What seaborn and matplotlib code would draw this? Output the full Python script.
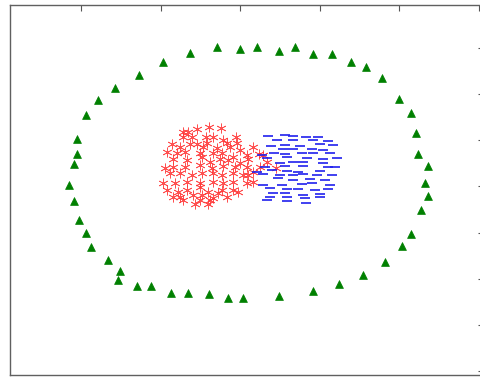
import matplotlib
matplotlib.use("Agg")
import matplotlib.pyplot as plt
import seaborn as sns
import pandas as pd

# ---- data (arbitrary units) ----
red_x = [-17.2, -12.8, -9.2, -5.8, -17.2, -14.5, -10.2, -8.0, -5.2, -1.2, -1.0, -20.5, -18.0, -15.0,
         -13.0, -10.0, -6.8, -3.0, 0.0, 3.8, -22.0, -19.0, -16.5, -12.0, -8.0, -5.5, -2.0, 2.0, 5.8,
         -20.0, -16.0, -11.5, -9.0, -6.0, -3.5, 0.0, 2.5, 8.0, -22.5, -20.0, -16.5, -12.0, -8.5, -5.0,
         -1.5, 2.0, 6.0, 10.8, -21.0, -18.0, -14.5, -11.5, -8.0, -5.5, -2.0, 1.0, 4.0, -23.0, -19.5,
         -16.0, -12.0, -8.0, -5.0, -2.0, 2.0, 4.0, -22.0, -18.5, -16.0, -12.0, -9.5, -5.5, -2.0, -0.5,
         -18.0, -14.0, -11.5, -8.0, -4.0, -17.0, -12.0, -6.5, -13.5, -9.5, -9.0, 2.5, 7.0, -15.5,
         -11.0, -4.0, -20.0]
red_y = [16.3, 17.0, 17.6, 17.3, 14.8, 14.8, 14.8, 14.6, 13.8, 14.8, 12.8, 12.6, 11.8, 12.6,
         12.6, 12.8, 11.3, 11.8, 10.8, 11.8, 10.3, 9.8, 10.3, 10.0, 9.8, 9.8, 8.8, 9.3, 9.6,
         8.0, 7.8, 8.8, 7.3, 8.0, 7.8, 7.0, 8.0, 7.3, 5.3, 5.8, 5.8, 6.3, 5.3, 6.0,
         5.8, 5.8, 5.8, 5.3, 3.8, 3.8, 3.3, 3.8, 3.8, 3.3, 3.8, 3.3, 4.3, 1.0, 1.0,
         1.3, 0.8, 1.3, 0.8, 1.3, 0.8, 1.3, -1.2, -1.7, -1.2, -0.2, -1.7, -1.2, -1.2, -1.7,
         -3.2, -2.7, -2.7, -3.7, -3.4, -4.2, -4.2, -2.2, -5.4, -5.4, -4.2, 3.3, 9.3, 16.3,
         11.8, 12.8, -3.2]

blue_x = [8.5, 13.5, 16.0, 19.8, 23.5, 11.0, 16.0, 22.0, 26.5, 9.2, 13.5, 18.0, 24.0, 28.0,
          12.8, 16.0, 21.5, 25.0, 6.5, 10.2, 13.5, 18.5, 22.0, 27.0, 8.0, 14.0, 20.0, 25.0, 29.0,
          12.0, 16.0, 19.0, 25.0, 7.5, 13.5, 19.0, 26.5, 28.5, 5.0, 9.5, 14.0, 17.5, 24.0,
          7.0, 12.0, 16.0, 19.0, 23.0, 27.5, 11.5, 16.0, 21.0, 25.5, 7.0, 12.5, 18.5, 21.5, 27.0,
          9.0, 14.0, 17.5, 22.5, 26.5, 10.0, 13.5, 19.0, 24.0, 9.0, 14.0, 19.5, 24.0, 8.0, 14.0, 19.8]
blue_y = [15.1, 15.3, 15.0, 14.8, 14.6, 13.8, 13.8, 13.8, 13.6, 12.1, 12.3, 12.1, 12.6, 12.3,
          11.0, 11.1, 11.1, 10.8, 9.2, 10.0, 9.6, 9.8, 10.0, 9.8, 8.3, 8.8, 8.5, 8.0, 8.3,
          7.0, 7.3, 7.3, 7.0, 5.8, 6.0, 6.0, 5.8, 5.6, 4.3, 4.8, 4.5, 4.3, 4.5,
          3.6, 3.3, 3.3, 3.6, 3.3, 3.3, 2.3, 1.8, 2.0, 1.8, 0.3, 0.3, 0.6, 1.0, 0.3,
          -0.7, -1.0, -1.0, -1.2, -1.0, -2.2, -2.0, -2.7, -2.4, -3.2, -3.4, -3.7, -3.4, -4.2, -4.5, -5.0]

green_x = [-15.0, -7.0, 0.0, 5.0, 11.6, 16.6, 21.8, 27.6, 33.4, 37.7, 42.7, 47.7, 51.3, 52.7,
           53.5, 56.3, 55.5, 56.3, 54.3, 51.3, 48.5, 43.5, 37.0, 29.8, 21.8, 11.6, 0.8, -3.5,
           -9.2, -15.6, -20.7, -26.6, -31.0, -36.7, -36.0, -39.7, -44.7, -46.2, -48.2, -49.7,
           -51.2, -49.7, -49.0, -49.0, -46.2, -42.5, -37.4, -30.2, -23.1]
green_y = [40.0, 41.6, 41.0, 41.6, 40.5, 41.6, 39.5, 39.5, 37.2, 35.6, 32.3, 26.2, 21.9, 15.8,
           9.7, 5.9, 1.0, -3.0, -7.3, -14.5, -17.9, -22.8, -26.6, -29.3, -31.5, -33.0, -33.7, -33.7,
           -32.5, -32.1, -32.1, -29.9, -29.9, -28.2, -25.4, -22.1, -18.3, -14.0, -10.1, -4.6,
           0.4, 6.5, 9.7, 14.2, 21.3, 25.8, 29.5, 33.3, 37.2]

x_ticks = [-47.7, -23.8, 0.0, 24.0, 47.8, 71.8]
y_ticks = [-55.5, -41.7, -27.9, -14.0, 0.0, 13.8, 27.7, 41.5]

red_df = pd.DataFrame({"x": red_x, "y": red_y})
blue_df = pd.DataFrame({"x": blue_x, "y": blue_y})
green_df = pd.DataFrame({"x": green_x, "y": green_y})

sns.set_theme(style="white")

fig = plt.figure(figsize=(4.81, 3.77), dpi=100)
ax = fig.add_axes([10 / 481, 2 / 377, 474 / 481, 370 / 377])

sns.scatterplot(data=green_df, x="x", y="y", marker="^", s=32, color="#008000",
                edgecolor="#008000", linewidth=0.5, ax=ax)
sns.scatterplot(data=red_df, x="x", y="y", marker=(6, 2, 0), s=45, color="#ff3333",
                linewidth=0.55, alpha=0.85, ax=ax)
sns.scatterplot(data=blue_df, x="x", y="y", marker="_", s=50, color="#2020ee",
                linewidth=1.2, ax=ax)

ax.set_xlim(-69.0, 73.2)
ax.set_ylim(-56.7, 54.3)
ax.set_xticks(x_ticks)
ax.set_yticks(y_ticks)
ax.set_xticklabels([])
ax.set_yticklabels([])
ax.set_xlabel("")
ax.set_ylabel("")
ax.tick_params(direction="in", top=True, right=True, length=4, width=0.8, color="#555555")
for sp in ax.spines.values():
    sp.set_color("#606060")
    sp.set_linewidth(1.0)

fig.savefig("out.png", dpi=100)
